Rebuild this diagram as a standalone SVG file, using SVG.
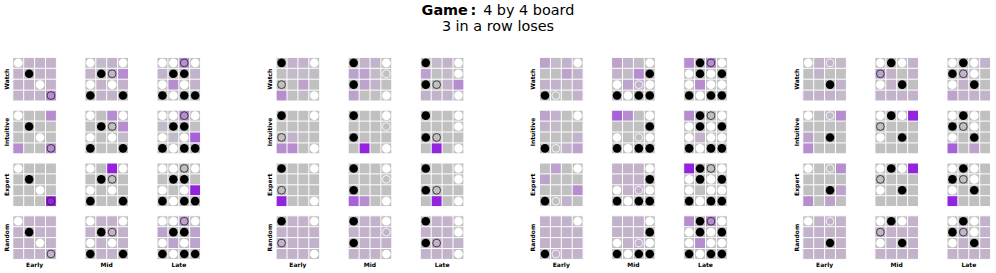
<svg xmlns="http://www.w3.org/2000/svg" xmlns:xlink="http://www.w3.org/1999/xlink" width="996" height="273" viewBox="0 0 996 273">
<style>
text{font-family:"DejaVu Sans","Liberation Sans",sans-serif;fill:#000}
.t{font-size:14.4px}
.lab{font-size:6px;font-weight:bold;text-anchor:middle}
.k{fill:#c3bbc7}.l{fill:#c3b3ca}.j{fill:#bca3cc}.m{fill:#b68ecf}.n{fill:#a762d7}.v{fill:#9324de}
</style>
<defs>
<rect id="c" width="10.9" height="10.9"/>
<rect id="bd" width="43.6" height="43.6" fill="#c0c0c0"/>
<path id="gr" d="M0 0H43.6M0 10.9H43.6M0 21.8H43.6M0 32.7H43.6M0 43.6H43.6M0 0V43.6M10.9 0V43.6M21.8 0V43.6M32.7 0V43.6M43.6 0V43.6" stroke="#fff" stroke-width="1" fill="none"/>
<circle id="B" r="4.3" fill="#000"/>
<circle id="W" r="4.3" fill="#fff"/>
<circle id="o" r="3.9" fill="none" stroke="#222" stroke-width="0.8"/>
<circle id="w" r="3.9" fill="none" stroke="#fff" stroke-width="0.8"/>
<g id="sE1"><use href="#W" x="5.45" y="5.45"/><use href="#B" x="16.35" y="16.35"/><use href="#W" x="27.25" y="27.25"/><use href="#o" x="38.15" y="38.15"/></g>
<g id="sM1"><use href="#W" x="5.45" y="5.45"/><use href="#W" x="38.15" y="5.45"/><use href="#B" x="16.35" y="16.35"/><use href="#o" x="27.25" y="16.35"/><use href="#W" x="5.45" y="27.25"/><use href="#W" x="27.25" y="27.25"/><use href="#B" x="5.45" y="38.15"/><use href="#B" x="38.15" y="38.15"/></g>
<g id="sL1"><use href="#W" x="5.45" y="5.45"/><use href="#W" x="16.35" y="5.45"/><use href="#o" x="27.25" y="5.45"/><use href="#W" x="38.15" y="5.45"/><use href="#B" x="16.35" y="16.35"/><use href="#B" x="27.25" y="16.35"/><use href="#W" x="5.45" y="27.25"/><use href="#W" x="27.25" y="27.25"/><use href="#B" x="5.45" y="38.15"/><use href="#W" x="16.35" y="38.15"/><use href="#B" x="27.25" y="38.15"/><use href="#B" x="38.15" y="38.15"/></g>
<g id="sE2"><use href="#B" x="5.45" y="5.45"/><use href="#W" x="38.15" y="5.45"/><use href="#o" x="5.45" y="27.25"/><use href="#W" x="38.15" y="38.15"/></g>
<g id="sM2"><use href="#B" x="5.45" y="5.45"/><use href="#W" x="38.15" y="5.45"/><use href="#w" x="38.15" y="16.35"/><use href="#B" x="5.45" y="27.25"/><use href="#W" x="38.15" y="38.15"/></g>
<g id="sL2"><use href="#B" x="5.45" y="5.45"/><use href="#W" x="38.15" y="5.45"/><use href="#W" x="38.15" y="16.35"/><use href="#B" x="5.45" y="27.25"/><use href="#o" x="16.35" y="27.25"/><use href="#W" x="38.15" y="38.15"/></g>
<g id="sE3"><use href="#W" x="38.15" y="5.45"/><use href="#B" x="5.45" y="38.15"/><use href="#w" x="16.35" y="38.15"/></g>
<g id="sM3"><use href="#W" x="38.15" y="5.45"/><use href="#B" x="38.15" y="16.35"/><use href="#W" x="5.45" y="27.25"/><use href="#w" x="27.25" y="27.25"/><use href="#W" x="38.15" y="27.25"/><use href="#B" x="5.45" y="38.15"/><use href="#W" x="16.35" y="38.15"/><use href="#B" x="27.25" y="38.15"/><use href="#B" x="38.15" y="38.15"/></g>
<g id="sL3"><use href="#B" x="16.35" y="5.45"/><use href="#o" x="27.25" y="5.45"/><use href="#W" x="38.15" y="5.45"/><use href="#W" x="5.45" y="16.35"/><use href="#B" x="16.35" y="16.35"/><use href="#W" x="27.25" y="16.35"/><use href="#B" x="38.15" y="16.35"/><use href="#W" x="5.45" y="27.25"/><use href="#W" x="27.25" y="27.25"/><use href="#W" x="38.15" y="27.25"/><use href="#B" x="5.45" y="38.15"/><use href="#W" x="16.35" y="38.15"/><use href="#B" x="27.25" y="38.15"/><use href="#B" x="38.15" y="38.15"/></g>
<g id="sE4"><use href="#W" x="5.45" y="5.45"/><use href="#w" x="27.25" y="5.45"/><use href="#B" x="27.25" y="27.25"/></g>
<g id="sM4"><use href="#W" x="5.45" y="5.45"/><use href="#B" x="16.35" y="5.45"/><use href="#W" x="27.25" y="5.45"/><use href="#o" x="5.45" y="16.35"/><use href="#W" x="5.45" y="27.25"/><use href="#B" x="27.25" y="27.25"/></g>
<g id="sL4"><use href="#W" x="5.45" y="5.45"/><use href="#B" x="16.35" y="5.45"/><use href="#W" x="27.25" y="5.45"/><use href="#B" x="5.45" y="16.35"/><use href="#o" x="16.35" y="16.35"/><use href="#W" x="27.25" y="16.35"/><use href="#W" x="5.45" y="27.25"/><use href="#B" x="27.25" y="27.25"/></g>
</defs>
<rect width="996" height="273" fill="#fff"/>
<g id="title">
<text class="t" x="421.6" y="15"><tspan font-weight="bold">Game</tspan><tspan font-weight="bold" dx="2.5">:</tspan><tspan dx="7">4 by 4 board</tspan></text>
<text class="t" x="498" y="30.7" text-anchor="middle">3 in a row loses</text>
</g>
<g id="labels">
<text class="lab" transform="translate(8.6 79.2) rotate(-90)">Watch</text>
<text class="lab" transform="translate(8.6 132) rotate(-90)">Intuitive</text>
<text class="lab" transform="translate(8.6 184.8) rotate(-90)">Expert</text>
<text class="lab" transform="translate(8.6 237.6) rotate(-90)">Random</text>
<text class="lab" x="34.6" y="267">Early</text><text class="lab" x="106.7" y="267">Mid</text><text class="lab" x="178.8" y="267">Late</text>
<text class="lab" transform="translate(271.9 79.2) rotate(-90)">Watch</text>
<text class="lab" transform="translate(271.9 132) rotate(-90)">Intuitive</text>
<text class="lab" transform="translate(271.9 184.8) rotate(-90)">Expert</text>
<text class="lab" transform="translate(271.9 237.6) rotate(-90)">Random</text>
<text class="lab" x="297.9" y="267">Early</text><text class="lab" x="370" y="267">Mid</text><text class="lab" x="442.1" y="267">Late</text>
<text class="lab" transform="translate(535.3 79.2) rotate(-90)">Watch</text>
<text class="lab" transform="translate(535.3 132) rotate(-90)">Intuitive</text>
<text class="lab" transform="translate(535.3 184.8) rotate(-90)">Expert</text>
<text class="lab" transform="translate(535.3 237.6) rotate(-90)">Random</text>
<text class="lab" x="561.3" y="267">Early</text><text class="lab" x="633.4" y="267">Mid</text><text class="lab" x="705.5" y="267">Late</text>
<text class="lab" transform="translate(798.6 79.2) rotate(-90)">Watch</text>
<text class="lab" transform="translate(798.6 132) rotate(-90)">Intuitive</text>
<text class="lab" transform="translate(798.6 184.8) rotate(-90)">Expert</text>
<text class="lab" transform="translate(798.6 237.6) rotate(-90)">Random</text>
<text class="lab" x="824.6" y="267">Early</text><text class="lab" x="896.7" y="267">Mid</text><text class="lab" x="968.8" y="267">Late</text>
</g>
<g id="connectors"/>
<!-- Panel 1 -->
<g id="p1-watch-early" transform="translate(12.8 57.4)"><use href="#bd"/><use href="#c" class="l" x="10.9"/><use href="#c" class="l" x="21.8"/><use href="#c" class="l" x="32.7"/><use href="#c" class="l" y="10.9"/><use href="#c" class="l" x="21.8" y="10.9"/><use href="#c" class="l" x="32.7" y="10.9"/><use href="#c" class="l" y="21.8"/><use href="#c" class="l" x="10.9" y="21.8"/><use href="#c" class="l" x="32.7" y="21.8"/><use href="#c" class="l" y="32.7"/><use href="#c" class="l" x="10.9" y="32.7"/><use href="#c" class="l" x="21.8" y="32.7"/><use href="#c" class="m" x="32.7" y="32.7"/><use href="#gr"/><use href="#sE1"/></g>
<g id="p1-watch-mid" transform="translate(84.9 57.4)"><use href="#bd"/><use href="#c" class="k" x="10.9"/><use href="#c" class="l" x="21.8"/><use href="#c" class="l" y="10.9"/><use href="#c" class="l" x="21.8" y="10.9"/><use href="#c" class="m" x="32.7" y="10.9"/><use href="#c" class="l" x="10.9" y="21.8"/><use href="#c" class="l" x="32.7" y="21.8"/><use href="#c" class="l" x="10.9" y="32.7"/><use href="#c" class="l" x="21.8" y="32.7"/><use href="#gr"/><use href="#sM1"/></g>
<g id="p1-watch-late" transform="translate(157 57.4)"><use href="#bd"/><use href="#c" class="m" x="21.8"/><use href="#c" class="l" y="10.9"/><use href="#c" class="l" x="32.7" y="10.9"/><use href="#c" class="m" x="10.9" y="21.8"/><use href="#c" class="l" x="32.7" y="21.8"/><use href="#gr"/><use href="#sL1"/></g>
<g id="p1-intuitive-early" transform="translate(12.8 110.2)"><use href="#bd"/><use href="#c" class="m" x="32.7"/><use href="#c" class="m" y="32.7"/><use href="#c" class="m" x="32.7" y="32.7"/><use href="#gr"/><use href="#sE1"/></g>
<g id="p1-intuitive-mid" transform="translate(84.9 110.2)"><use href="#bd"/><use href="#c" class="m" x="21.8"/><use href="#c" class="m" x="32.7" y="10.9"/><use href="#c" class="k" x="32.7" y="21.8"/><use href="#gr"/><use href="#sM1"/></g>
<g id="p1-intuitive-late" transform="translate(157 110.2)"><use href="#bd"/><use href="#c" class="m" x="21.8"/><use href="#c" class="k" y="10.9"/><use href="#c" class="k" x="10.9" y="21.8"/><use href="#c" class="n" x="32.7" y="21.8"/><use href="#gr"/><use href="#sL1"/></g>
<g id="p1-expert-early" transform="translate(12.8 163)"><use href="#bd"/><use href="#c" class="v" x="32.7" y="32.7"/><use href="#gr"/><use href="#sE1"/></g>
<g id="p1-expert-mid" transform="translate(84.9 163)"><use href="#bd"/><use href="#c" class="v" x="21.8"/><use href="#gr"/><use href="#sM1"/></g>
<g id="p1-expert-late" transform="translate(157 163)"><use href="#bd"/><use href="#c" class="v" x="32.7" y="21.8"/><use href="#gr"/><use href="#sL1"/></g>
<g id="p1-random-early" transform="translate(12.8 215.8)"><use href="#bd"/><use href="#c" class="l" x="10.9"/><use href="#c" class="l" x="21.8"/><use href="#c" class="l" x="32.7"/><use href="#c" class="l" y="10.9"/><use href="#c" class="l" x="21.8" y="10.9"/><use href="#c" class="l" x="32.7" y="10.9"/><use href="#c" class="l" y="21.8"/><use href="#c" class="l" x="10.9" y="21.8"/><use href="#c" class="l" x="32.7" y="21.8"/><use href="#c" class="l" y="32.7"/><use href="#c" class="l" x="10.9" y="32.7"/><use href="#c" class="l" x="21.8" y="32.7"/><use href="#c" class="l" x="32.7" y="32.7"/><use href="#gr"/><use href="#sE1"/></g>
<g id="p1-random-mid" transform="translate(84.9 215.8)"><use href="#bd"/><use href="#c" class="l" x="10.9"/><use href="#c" class="l" x="21.8"/><use href="#c" class="l" y="10.9"/><use href="#c" class="l" x="21.8" y="10.9"/><use href="#c" class="l" x="32.7" y="10.9"/><use href="#c" class="l" x="10.9" y="21.8"/><use href="#c" class="l" x="32.7" y="21.8"/><use href="#c" class="l" x="10.9" y="32.7"/><use href="#c" class="l" x="21.8" y="32.7"/><use href="#gr"/><use href="#sM1"/></g>
<g id="p1-random-late" transform="translate(157 215.8)"><use href="#bd"/><use href="#c" class="j" x="21.8"/><use href="#c" class="j" y="10.9"/><use href="#c" class="j" x="32.7" y="10.9"/><use href="#c" class="j" x="10.9" y="21.8"/><use href="#c" class="j" x="32.7" y="21.8"/><use href="#gr"/><use href="#sL1"/></g>
<!-- Panel 2 -->
<g id="p2-watch-early" transform="translate(276.1 57.4)"><use href="#bd"/><use href="#c" class="l" x="10.9"/><use href="#c" class="l" x="21.8"/><use href="#c" class="k" x="10.9" y="10.9"/><use href="#c" class="k" x="21.8" y="10.9"/><use href="#c" class="k" x="32.7" y="10.9"/><use href="#c" class="j" x="21.8" y="21.8"/><use href="#c" class="m" y="32.7"/><use href="#c" class="k" x="21.8" y="32.7"/><use href="#gr"/><use href="#sE2"/></g>
<g id="p2-watch-mid" transform="translate(348.2 57.4)"><use href="#bd"/><use href="#c" class="l" x="10.9"/><use href="#c" class="l" x="21.8"/><use href="#c" class="j" y="10.9"/><use href="#c" class="j" x="10.9" y="10.9"/><use href="#c" class="k" x="21.8" y="10.9"/><use href="#c" class="j" x="10.9" y="21.8"/><use href="#c" class="l" x="21.8" y="21.8"/><use href="#c" class="j" y="32.7"/><use href="#gr"/><use href="#sM2"/></g>
<g id="p2-watch-late" transform="translate(420.3 57.4)"><use href="#bd"/><use href="#c" class="k" x="10.9"/><use href="#c" class="l" x="21.8"/><use href="#c" class="j" y="10.9"/><use href="#c" class="k" x="21.8" y="10.9"/><use href="#c" class="l" x="21.8" y="21.8"/><use href="#c" class="m" x="32.7" y="21.8"/><use href="#c" class="l" y="32.7"/><use href="#c" class="l" x="10.9" y="32.7"/><use href="#c" class="l" x="21.8" y="32.7"/><use href="#gr"/><use href="#sL2"/></g>
<g id="p2-intuitive-early" transform="translate(276.1 110.2)"><use href="#bd"/><use href="#c" class="l" x="10.9" y="21.8"/><use href="#c" class="m" y="32.7"/><use href="#c" class="m" x="10.9" y="32.7"/><use href="#gr"/><use href="#sE2"/></g>
<g id="p2-intuitive-mid" transform="translate(348.2 110.2)"><use href="#bd"/><use href="#c" class="v" x="10.9" y="32.7"/><use href="#gr"/><use href="#sM2"/></g>
<g id="p2-intuitive-late" transform="translate(420.3 110.2)"><use href="#bd"/><use href="#c" class="v" x="10.9" y="32.7"/><use href="#gr"/><use href="#sL2"/></g>
<g id="p2-expert-early" transform="translate(276.1 163)"><use href="#bd"/><use href="#c" class="v" y="32.7"/><use href="#gr"/><use href="#sE2"/></g>
<g id="p2-expert-mid" transform="translate(348.2 163)"><use href="#bd"/><use href="#c" class="n" y="32.7"/><use href="#c" class="m" x="10.9" y="32.7"/><use href="#gr"/><use href="#sM2"/></g>
<g id="p2-expert-late" transform="translate(420.3 163)"><use href="#bd"/><use href="#c" class="v" x="10.9" y="32.7"/><use href="#gr"/><use href="#sL2"/></g>
<g id="p2-random-early" transform="translate(276.1 215.8)"><use href="#bd"/><use href="#c" class="l" x="10.9"/><use href="#c" class="l" x="21.8"/><use href="#c" class="l" y="10.9"/><use href="#c" class="l" x="10.9" y="10.9"/><use href="#c" class="l" x="21.8" y="10.9"/><use href="#c" class="l" x="32.7" y="10.9"/><use href="#c" class="l" y="21.8"/><use href="#c" class="l" x="10.9" y="21.8"/><use href="#c" class="l" x="21.8" y="21.8"/><use href="#c" class="l" x="32.7" y="21.8"/><use href="#c" class="l" y="32.7"/><use href="#c" class="l" x="10.9" y="32.7"/><use href="#c" class="l" x="21.8" y="32.7"/><use href="#gr"/><use href="#sE2"/></g>
<g id="p2-random-mid" transform="translate(348.2 215.8)"><use href="#bd"/><use href="#c" class="l" x="10.9"/><use href="#c" class="l" x="21.8"/><use href="#c" class="l" y="10.9"/><use href="#c" class="l" x="10.9" y="10.9"/><use href="#c" class="l" x="21.8" y="10.9"/><use href="#c" class="l" x="32.7" y="10.9"/><use href="#c" class="l" x="10.9" y="21.8"/><use href="#c" class="l" x="21.8" y="21.8"/><use href="#c" class="l" x="32.7" y="21.8"/><use href="#c" class="l" y="32.7"/><use href="#c" class="l" x="10.9" y="32.7"/><use href="#c" class="l" x="21.8" y="32.7"/><use href="#gr"/><use href="#sM2"/></g>
<g id="p2-random-late" transform="translate(420.3 215.8)"><use href="#bd"/><use href="#c" class="l" x="10.9"/><use href="#c" class="l" x="21.8"/><use href="#c" class="l" y="10.9"/><use href="#c" class="l" x="10.9" y="10.9"/><use href="#c" class="l" x="21.8" y="10.9"/><use href="#c" class="l" x="10.9" y="21.8"/><use href="#c" class="l" x="21.8" y="21.8"/><use href="#c" class="l" x="32.7" y="21.8"/><use href="#c" class="l" y="32.7"/><use href="#c" class="l" x="10.9" y="32.7"/><use href="#c" class="l" x="21.8" y="32.7"/><use href="#gr"/><use href="#sL2"/></g>
<!-- Panel 3 -->
<g id="p3-watch-early" transform="translate(539.5 57.4)"><use href="#bd"/><use href="#c" class="j"/><use href="#c" class="k" x="10.9"/><use href="#c" class="l" x="21.8"/><use href="#c" class="j" x="21.8" y="10.9"/><use href="#c" class="l" x="32.7" y="10.9"/><use href="#c" class="l" y="21.8"/><use href="#c" class="l" x="10.9" y="21.8"/><use href="#c" class="k" x="21.8" y="21.8"/><use href="#c" class="l" x="32.7" y="21.8"/><use href="#c" class="l" x="32.7" y="32.7"/><use href="#gr"/><use href="#sE3"/></g>
<g id="p3-watch-mid" transform="translate(611.6 57.4)"><use href="#bd"/><use href="#c" class="j"/><use href="#c" class="l" x="10.9"/><use href="#c" class="k" x="21.8"/><use href="#c" class="l" y="10.9"/><use href="#c" class="k" x="10.9" y="10.9"/><use href="#c" class="m" x="21.8" y="10.9"/><use href="#c" class="j" x="10.9" y="21.8"/><use href="#c" class="l" x="21.8" y="21.8"/><use href="#gr"/><use href="#sM3"/></g>
<g id="p3-watch-late" transform="translate(683.7 57.4)"><use href="#bd"/><use href="#c" class="m"/><use href="#c" class="m" x="21.8"/><use href="#c" class="m" x="10.9" y="21.8"/><use href="#gr"/><use href="#sL3"/></g>
<g id="p3-intuitive-early" transform="translate(539.5 110.2)"><use href="#bd"/><use href="#c" class="j"/><use href="#c" class="l" x="10.9"/><use href="#c" class="l" y="10.9"/><use href="#c" class="k" x="10.9" y="10.9"/><use href="#c" class="l" x="32.7" y="21.8"/><use href="#c" class="l" x="21.8" y="32.7"/><use href="#c" class="j" x="32.7" y="32.7"/><use href="#gr"/><use href="#sE3"/></g>
<g id="p3-intuitive-mid" transform="translate(611.6 110.2)"><use href="#bd"/><use href="#c" class="n"/><use href="#c" class="m" x="10.9"/><use href="#gr"/><use href="#sM3"/></g>
<g id="p3-intuitive-late" transform="translate(683.7 110.2)"><use href="#bd"/><use href="#c" class="m"/><use href="#c" class="l" x="10.9" y="21.8"/><use href="#gr"/><use href="#sL3"/></g>
<g id="p3-expert-early" transform="translate(539.5 163)"><use href="#bd"/><use href="#c" class="j" x="10.9"/><use href="#c" class="j" y="10.9"/><use href="#c" class="m" x="32.7" y="21.8"/><use href="#c" class="l" x="21.8" y="32.7"/><use href="#gr"/><use href="#sE3"/></g>
<g id="p3-expert-mid" transform="translate(611.6 163)"><use href="#bd"/><use href="#c" class="l"/><use href="#c" class="l" x="10.9"/><use href="#c" class="l" x="21.8"/><use href="#c" class="l" y="10.9"/><use href="#c" class="l" x="10.9" y="10.9"/><use href="#c" class="l" x="21.8" y="10.9"/><use href="#c" class="l" x="10.9" y="21.8"/><use href="#c" class="l" x="21.8" y="21.8"/><use href="#gr"/><use href="#sM3"/></g>
<g id="p3-expert-late" transform="translate(683.7 163)"><use href="#bd"/><use href="#c" class="v"/><use href="#gr"/><use href="#sL3"/></g>
<g id="p3-random-early" transform="translate(539.5 215.8)"><use href="#bd"/><use href="#c" class="l"/><use href="#c" class="l" x="10.9"/><use href="#c" class="l" x="21.8"/><use href="#c" class="l" y="10.9"/><use href="#c" class="l" x="10.9" y="10.9"/><use href="#c" class="l" x="21.8" y="10.9"/><use href="#c" class="l" x="32.7" y="10.9"/><use href="#c" class="l" y="21.8"/><use href="#c" class="l" x="10.9" y="21.8"/><use href="#c" class="l" x="21.8" y="21.8"/><use href="#c" class="l" x="32.7" y="21.8"/><use href="#c" class="l" x="10.9" y="32.7"/><use href="#c" class="l" x="21.8" y="32.7"/><use href="#c" class="l" x="32.7" y="32.7"/><use href="#gr"/><use href="#sE3"/></g>
<g id="p3-random-mid" transform="translate(611.6 215.8)"><use href="#bd"/><use href="#c" class="l"/><use href="#c" class="l" x="10.9"/><use href="#c" class="l" x="21.8"/><use href="#c" class="l" y="10.9"/><use href="#c" class="l" x="10.9" y="10.9"/><use href="#c" class="l" x="21.8" y="10.9"/><use href="#c" class="l" x="10.9" y="21.8"/><use href="#c" class="l" x="21.8" y="21.8"/><use href="#gr"/><use href="#sM3"/></g>
<g id="p3-random-late" transform="translate(683.7 215.8)"><use href="#bd"/><use href="#c" class="m"/><use href="#c" class="m" x="21.8"/><use href="#c" class="m" x="10.9" y="21.8"/><use href="#gr"/><use href="#sL3"/></g>
<!-- Panel 4 -->
<g id="p4-watch-early" transform="translate(802.8 57.4)"><use href="#bd"/><use href="#c" class="l" x="10.9"/><use href="#c" class="l" x="21.8"/><use href="#c" class="k" x="32.7"/><use href="#c" class="l" x="10.9" y="10.9"/><use href="#c" class="l" x="32.7" y="21.8"/><use href="#c" class="l" y="32.7"/><use href="#c" class="l" x="10.9" y="32.7"/><use href="#c" class="l" x="21.8" y="32.7"/><use href="#c" class="k" x="32.7" y="32.7"/><use href="#gr"/><use href="#sE4"/></g>
<g id="p4-watch-mid" transform="translate(874.9 57.4)"><use href="#bd"/><use href="#c" class="l" x="32.7"/><use href="#c" class="j" y="10.9"/><use href="#c" class="l" x="10.9" y="10.9"/><use href="#c" class="l" x="32.7" y="10.9"/><use href="#c" class="l" x="10.9" y="21.8"/><use href="#c" class="l" y="32.7"/><use href="#c" class="l" x="10.9" y="32.7"/><use href="#c" class="l" x="21.8" y="32.7"/><use href="#c" class="l" x="32.7" y="32.7"/><use href="#gr"/><use href="#sM4"/></g>
<g id="p4-watch-late" transform="translate(947 57.4)"><use href="#bd"/><use href="#c" class="l" x="32.7"/><use href="#c" class="l" x="10.9" y="10.9"/><use href="#c" class="l" x="10.9" y="21.8"/><use href="#c" class="j" y="32.7"/><use href="#c" class="l" x="10.9" y="32.7"/><use href="#c" class="l" x="21.8" y="32.7"/><use href="#c" class="l" x="32.7" y="32.7"/><use href="#gr"/><use href="#sL4"/></g>
<g id="p4-intuitive-early" transform="translate(802.8 110.2)"><use href="#bd"/><use href="#c" class="k" x="21.8"/><use href="#c" class="m" x="32.7"/><use href="#c" class="j" y="21.8"/><use href="#c" class="m" y="32.7"/><use href="#gr"/><use href="#sE4"/></g>
<g id="p4-intuitive-mid" transform="translate(874.9 110.2)"><use href="#bd"/><use href="#c" class="v" x="32.7"/><use href="#gr"/><use href="#sM4"/></g>
<g id="p4-intuitive-late" transform="translate(947 110.2)"><use href="#bd"/><use href="#c" class="n" y="32.7"/><use href="#c" class="j" x="21.8" y="32.7"/><use href="#gr"/><use href="#sL4"/></g>
<g id="p4-expert-early" transform="translate(802.8 163)"><use href="#bd"/><use href="#c" class="m" x="32.7"/><use href="#c" class="j" x="32.7" y="21.8"/><use href="#c" class="m" y="32.7"/><use href="#c" class="j" x="21.8" y="32.7"/><use href="#gr"/><use href="#sE4"/></g>
<g id="p4-expert-mid" transform="translate(874.9 163)"><use href="#bd"/><use href="#c" class="v" x="32.7"/><use href="#gr"/><use href="#sM4"/></g>
<g id="p4-expert-late" transform="translate(947 163)"><use href="#bd"/><use href="#c" class="v" y="32.7"/><use href="#gr"/><use href="#sL4"/></g>
<g id="p4-random-early" transform="translate(802.8 215.8)"><use href="#bd"/><use href="#c" class="l" x="10.9"/><use href="#c" class="l" x="21.8"/><use href="#c" class="l" x="32.7"/><use href="#c" class="l" y="10.9"/><use href="#c" class="l" x="10.9" y="10.9"/><use href="#c" class="l" x="21.8" y="10.9"/><use href="#c" class="l" x="32.7" y="10.9"/><use href="#c" class="l" y="21.8"/><use href="#c" class="l" x="10.9" y="21.8"/><use href="#c" class="l" x="32.7" y="21.8"/><use href="#c" class="l" y="32.7"/><use href="#c" class="l" x="10.9" y="32.7"/><use href="#c" class="l" x="21.8" y="32.7"/><use href="#c" class="l" x="32.7" y="32.7"/><use href="#gr"/><use href="#sE4"/></g>
<g id="p4-random-mid" transform="translate(874.9 215.8)"><use href="#bd"/><use href="#c" class="l" x="32.7"/><use href="#c" class="l" y="10.9"/><use href="#c" class="l" x="10.9" y="10.9"/><use href="#c" class="l" x="21.8" y="10.9"/><use href="#c" class="l" x="32.7" y="10.9"/><use href="#c" class="l" x="10.9" y="21.8"/><use href="#c" class="l" x="32.7" y="21.8"/><use href="#c" class="l" y="32.7"/><use href="#c" class="l" x="10.9" y="32.7"/><use href="#c" class="l" x="21.8" y="32.7"/><use href="#c" class="l" x="32.7" y="32.7"/><use href="#gr"/><use href="#sM4"/></g>
<g id="p4-random-late" transform="translate(947 215.8)"><use href="#bd"/><use href="#c" class="l" x="32.7"/><use href="#c" class="l" x="10.9" y="10.9"/><use href="#c" class="l" x="32.7" y="10.9"/><use href="#c" class="l" x="10.9" y="21.8"/><use href="#c" class="l" x="32.7" y="21.8"/><use href="#c" class="l" y="32.7"/><use href="#c" class="l" x="10.9" y="32.7"/><use href="#c" class="l" x="21.8" y="32.7"/><use href="#c" class="l" x="32.7" y="32.7"/><use href="#gr"/><use href="#sL4"/></g>
</svg>
